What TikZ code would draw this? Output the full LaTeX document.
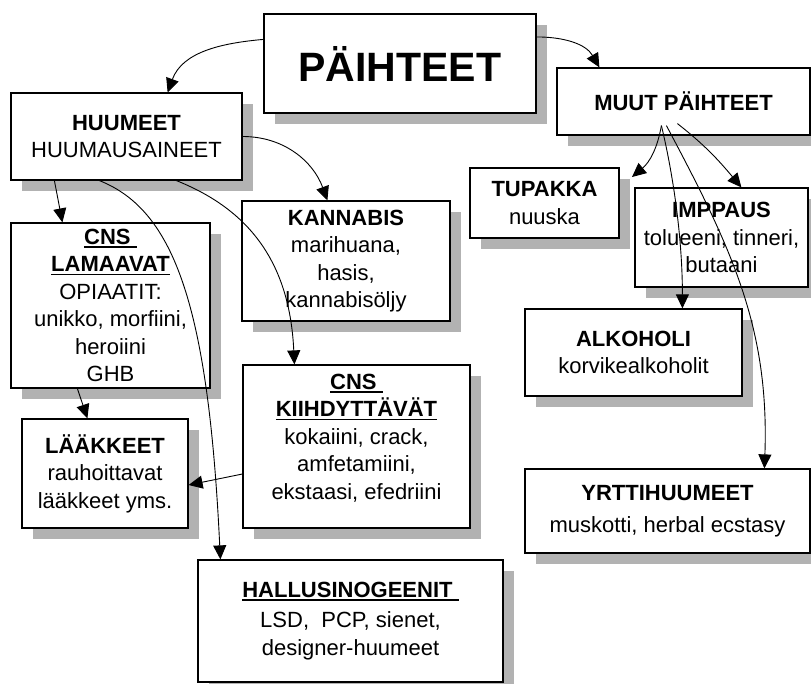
\documentclass[tikz,border=0pt]{standalone}
\usepackage{fontspec}
\setmainfont{Liberation Sans}
\usepackage{tikz}
\usetikzlibrary{arrows.meta, calc, shadows}
\definecolor{shadowcol}{RGB}{178,178,178}

% underlined heading with a heavier rule
\newcommand{\undertext}[1]{\leavevmode\setbox0=\hbox{#1}\rlap{\copy0}\rule[-3.5bp]{\wd0}{1.6bp}}

\begin{document}
\begin{tikzpicture}[
  x=1bp, y=1bp,
  font=\fontsize{22bp}{27.5bp}\selectfont,
  box/.style={draw=black, line width=1.2bp, fill=white, align=center,
              inner sep=0pt,
              drop shadow={shadow xshift=11bp, shadow yshift=-11bp,
                           fill=shadowcol, opacity=1}},
  lnk/.style={-{Triangle[length=14bp, width=13bp]}, line width=0.9bp}
]
  \useasboundingbox (0,0) rectangle (811,-684);

  % top level
  \node[box, minimum width=272bp, minimum height=99bp,
        font=\fontsize{41bp}{44bp}\selectfont\bfseries] (paih) at (400,-63.5)
    {PÄIHTEET};
  \node[box, minimum width=231bp, minimum height=87bp] (huumeet) at (126.5,-136.5)
    {\textbf{HUUMEET}\\HUUMAUSAINEET};
  \node[box, minimum width=253bp, minimum height=67bp] (muut) at (683.5,-101.5)
    {\textbf{MUUT PÄIHTEET}};

  % huumeet side
  \node[box, minimum width=208bp, minimum height=120bp] (kannabis) at (346,-261)
    {\textbf{KANNABIS}\\marihuana,\\hasis,\\kannabisöljy};
  \node[box, minimum width=199bp, minimum height=165bp] (lamaavat) at (110.5,-305.5)
    {\undertext{\textbf{CNS~}}\\\undertext{\textbf{LAMAAVAT}}\\OPIAATIT:\\unikko, morfiini,\\heroiini\\GHB};
  \node[box, minimum width=166bp, minimum height=109bp] (laakkeet) at (105,-473.5)
    {\textbf{LÄÄKKEET}\\rauhoittavat\\lääkkeet yms.};
  \node[box, minimum width=227bp, minimum height=163bp] (kiihd) at (356.5,-446.5)
    {\undertext{\textbf{CNS~}}\\\undertext{\textbf{KIIHDYTTÄVÄT}}\\kokaiini, crack,\\amfetamiini,\\ekstaasi, efedriini\\[-8bp]};
  \node[box, minimum width=305bp, minimum height=122bp] (hallus) at (350.5,-621)
    {\undertext{\textbf{HALLUSINOGEENIT~}}\\[3bp]LSD,\ \ PCP, sienet,\\designer-huumeet};

  % muut side
  \node[box, minimum width=149bp, minimum height=70bp] (tupakka) at (544.5,-203)
    {\textbf{TUPAKKA}\\nuuska};
  \node[box, minimum width=173bp, minimum height=99bp] (imppaus) at (721.5,-237.5)
    {\textbf{IMPPAUS}\\tolueeni, tinneri,\\butaani};
  \node[box, minimum width=217bp, minimum height=87bp] (alkoholi) at (633.5,-352.5)
    {\textbf{ALKOHOLI}\\korvikealkoholit};
  \node[box, minimum width=285bp, minimum height=84bp] (yrtti) at (667.5,-511)
    {\textbf{YRTTIHUUMEET}\\[4bp]muskotti, herbal ecstasy};

  \coordinate (m1) at ($(muut.south west)+(105,10)$);
  \coordinate (m2) at ($(muut.south west)+(110,10)$);
  \coordinate (m3) at ($(muut.south west)+(121,12)$);
  \coordinate (tupakkatip) at (632,-177);

  % connectors
  \draw[lnk] (paih.170) to[out=185, in=70] (huumeet.47);
  \draw[lnk] (paih.11) to[out=0, in=120] ($(muut.north west)+(43,0)$);
  \draw[lnk] (huumeet.east) to[out=0, in=110] ($(kannabis.north west)+(86,0)$);
  \draw[lnk] ($(huumeet.south west)+(44,0)$) -- ($(lamaavat.north west)+(52,0)$);
  \draw[lnk] ($(huumeet.south west)+(89,0)$) .. controls +(76,-30) and +(-12,250)
    .. ($(hallus.north west)+(23,0)$);
  \draw[lnk] ($(huumeet.south west)+(166,0)$) .. controls +(65,-26) and +(-5,110)
    .. ($(kiihd.north west)+(52,0)$);
  \draw[lnk] ($(lamaavat.south west)+(67,0)$) -- ($(laakkeet.north west)+(66,0)$);
  \draw[lnk] ($(kiihd.west)+(0,-27.5)$) -- ($(laakkeet.east)+(0,-11.5)$);

  \draw[lnk] (m1) to[out=-100, in=40] (tupakkatip);
  \draw[lnk] (m3) to[out=-38, in=130] ($(imppaus.north west)+(107,0)$);
  \draw[lnk] (m1) .. controls +(12,-50) and +(0,70) .. ($(alkoholi.north west)+(158,0)$);
  \draw[lnk] (m2) .. controls +(66,-124) and +(5,140) .. ($(yrtti.north west)+(240,0)$);
\end{tikzpicture}
\end{document}
